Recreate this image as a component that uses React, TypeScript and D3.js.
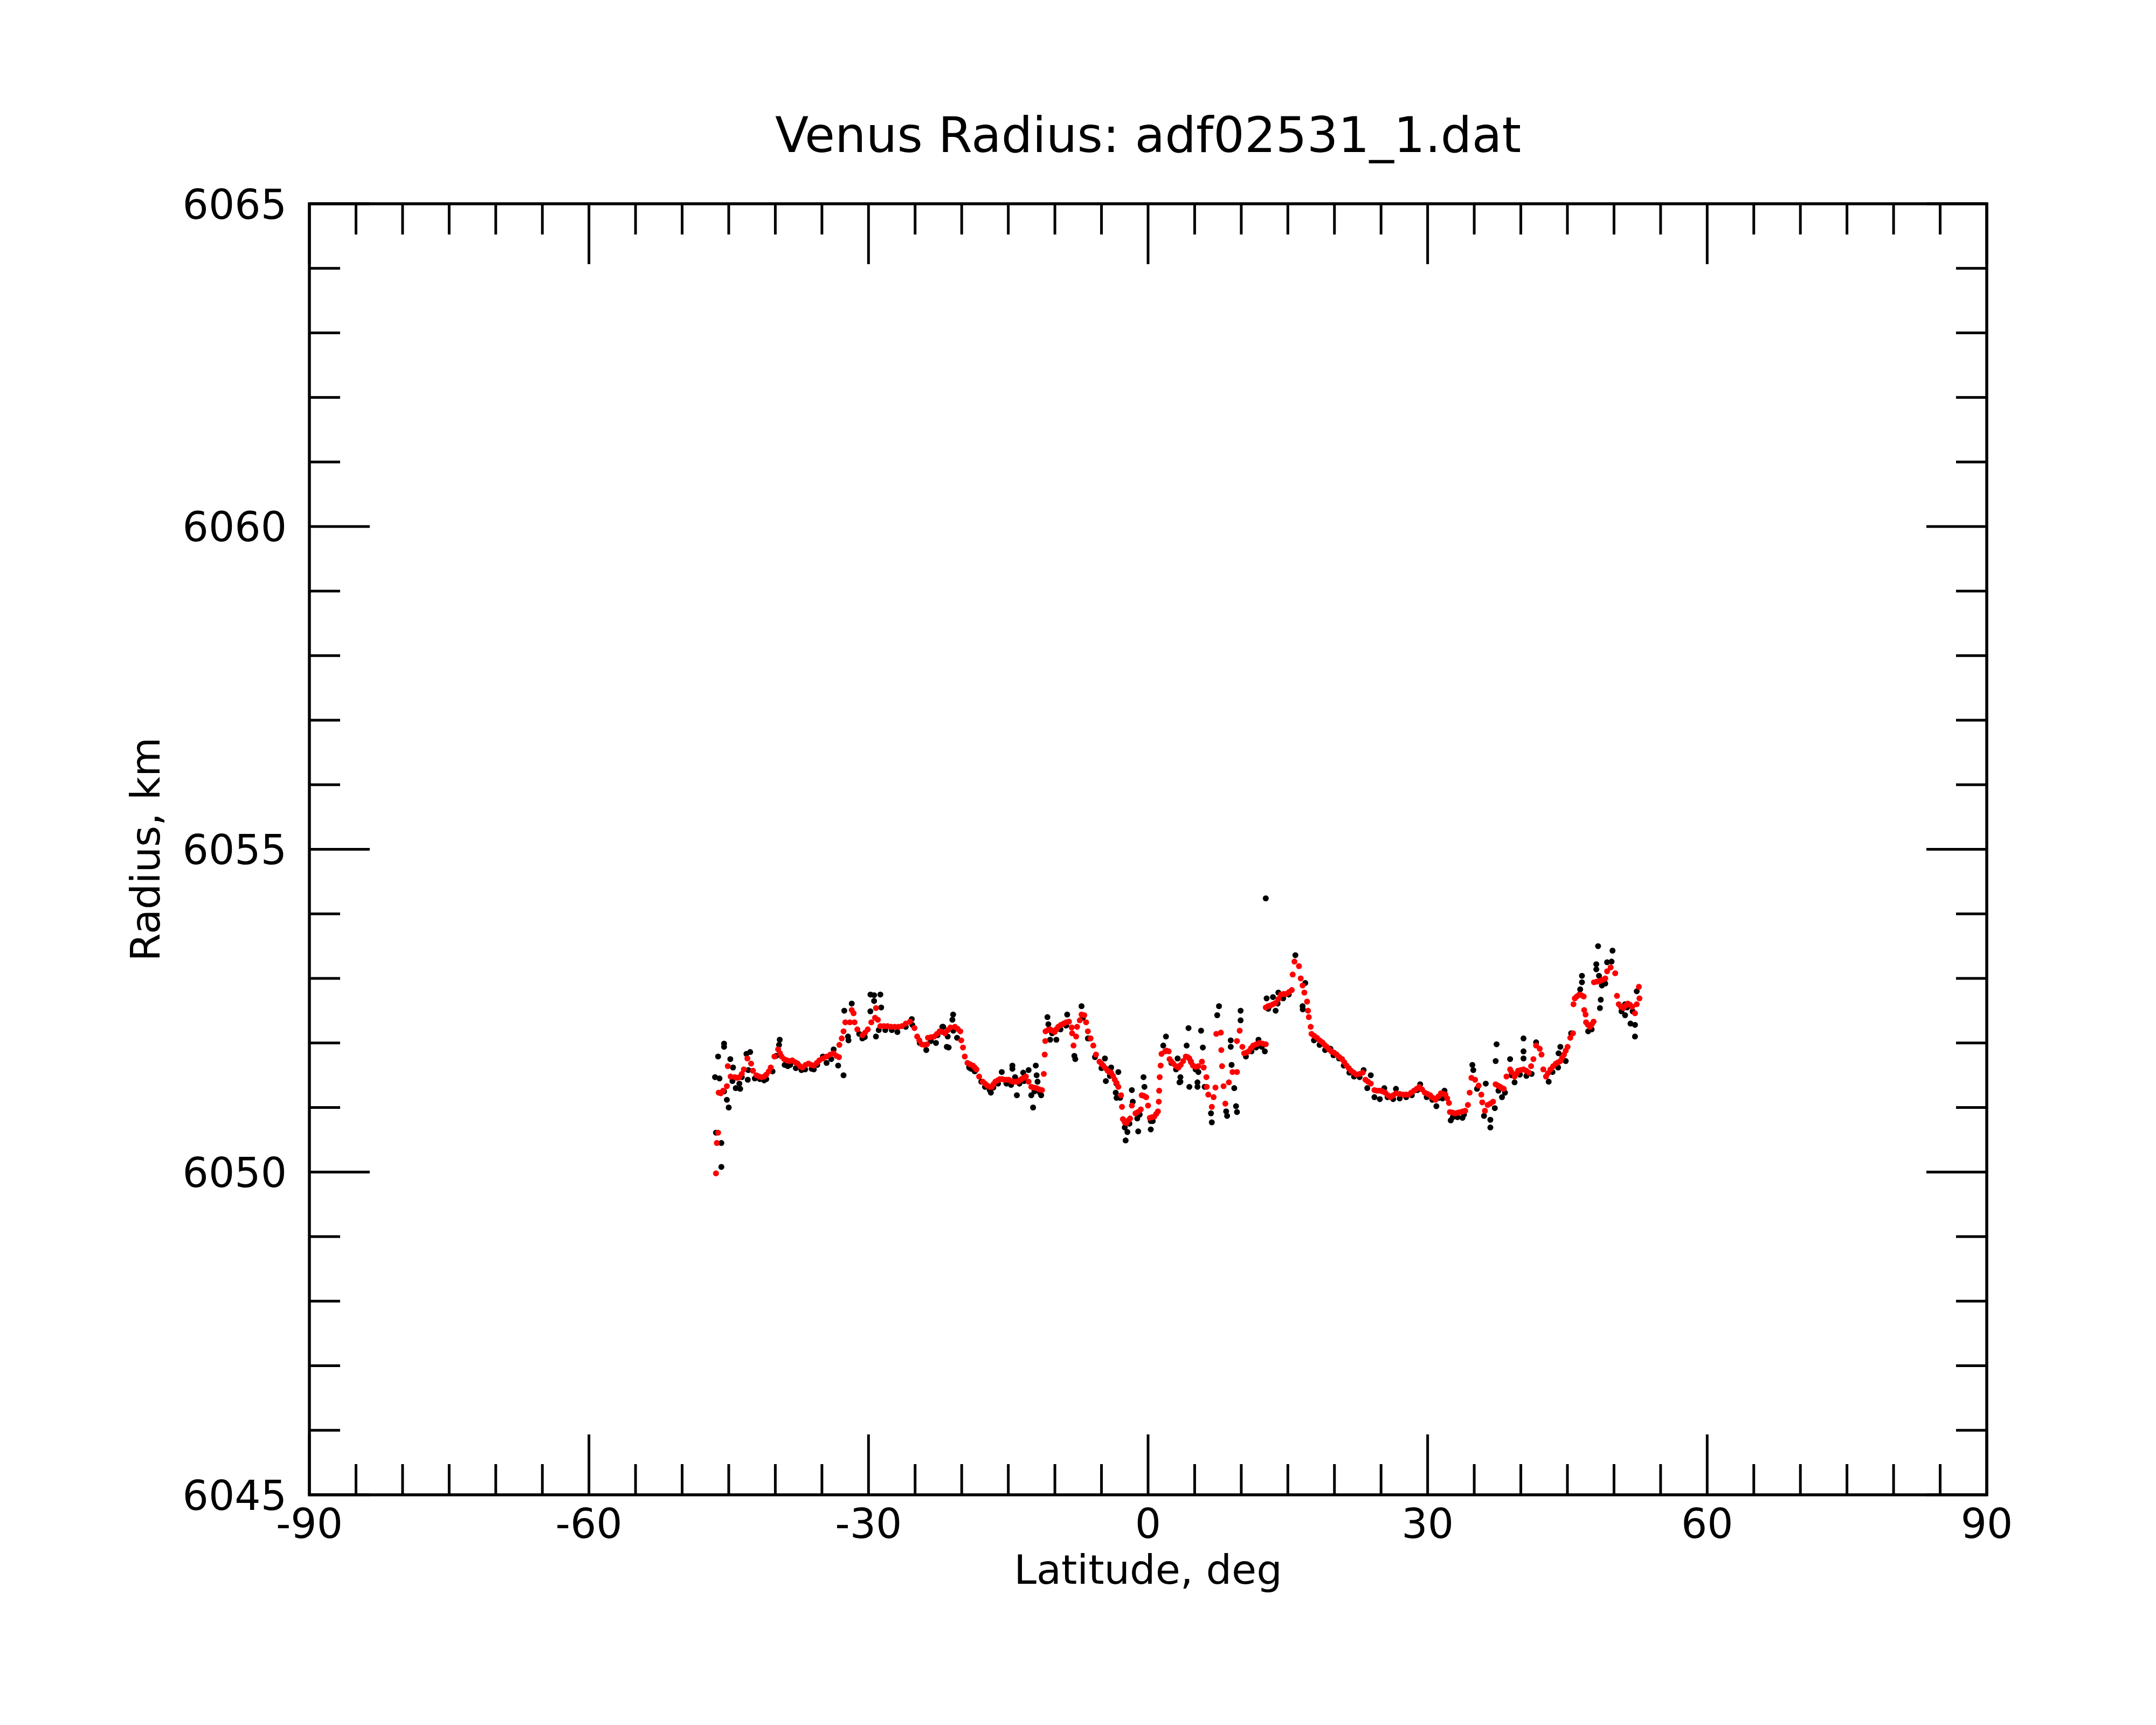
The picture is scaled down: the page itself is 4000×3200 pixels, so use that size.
import * as d3 from "d3";

// axis ticks
const xMajorTicks = [-90, -60, -30, 0, 30, 60, 90];
const yMajorTicks = [6045, 6050, 6055, 6060, 6065];
const xMinorStep = 5;
const yMinorStep = 1;

// smoothed radius (red), [latitude deg, radius km]
const smoothPoints: [number, number][] = [
  [-46.37, 6049.98], [-46.28, 6050.45], [-46.14, 6050.61], [-46.08, 6051.23], [-45.85, 6051.22],
  [-45.6, 6051.26], [-45.2, 6051.33], [-45.1, 6051.64], [-44.8, 6051.48], [-44.35, 6051.47],
  [-43.86, 6051.47], [-43.38, 6051.59], [-43.0, 6051.76], [-42.6, 6051.68], [-42.4, 6051.57],
  [-42.03, 6051.5], [-41.46, 6051.47], [-40.97, 6051.51], [-40.49, 6051.62], [-40.1, 6051.79],
  [-39.7, 6051.9], [-39.33, 6051.79], [-38.76, 6051.73], [-38.18, 6051.73], [-37.6, 6051.68],
  [-37.1, 6051.62], [-36.44, 6051.68], [-35.86, 6051.65], [-35.28, 6051.73], [-34.5, 6051.79],
  [-33.74, 6051.84], [-33.17, 6051.78], [-33.13, 6051.97], [-32.87, 6052.07], [-32.68, 6052.18],
  [-32.49, 6052.32], [-32.0, 6052.32], [-31.8, 6052.51], [-31.6, 6052.46], [-31.5, 6052.32],
  [-31.2, 6052.21], [-30.66, 6052.12], [-30.08, 6052.21], [-29.7, 6052.32], [-29.3, 6052.39],
  [-29.2, 6052.54], [-29.0, 6052.36], [-28.73, 6052.26], [-27.96, 6052.26], [-27.19, 6052.25],
  [-26.42, 6052.26], [-25.55, 6052.33], [-25.07, 6052.23], [-24.78, 6052.1], [-24.3, 6051.98],
  [-23.72, 6051.98], [-23.62, 6052.08], [-22.95, 6052.1], [-22.37, 6052.18], [-21.79, 6052.15],
  [-21.21, 6052.24], [-20.73, 6052.25], [-20.15, 6052.18], [-20.05, 6052.04], [-19.86, 6051.93],
  [-19.67, 6051.79], [-19.38, 6051.69], [-18.8, 6051.65], [-18.41, 6051.59], [-18.13, 6051.48],
  [-17.74, 6051.4], [-17.26, 6051.34], [-16.78, 6051.32], [-16.39, 6051.4], [-15.91, 6051.44],
  [-15.43, 6051.43], [-14.94, 6051.43], [-14.46, 6051.4], [-13.98, 6051.4], [-13.6, 6051.44],
  [-13.11, 6051.48], [-12.82, 6051.4], [-12.53, 6051.32], [-11.96, 6051.3], [-11.38, 6051.27],
  [-11.19, 6051.52], [-11.09, 6051.82], [-11.03, 6052.03], [-11.0, 6052.18], [-10.51, 6052.21],
  [-10.03, 6052.17], [-9.64, 6052.25], [-9.07, 6052.3], [-8.49, 6052.33], [-8.2, 6052.24],
  [-8.15, 6052.15], [-8.0, 6051.96], [-7.72, 6052.1], [-7.62, 6052.25], [-7.33, 6052.35],
  [-7.14, 6052.44], [-6.85, 6052.43], [-6.65, 6052.32], [-6.46, 6052.18], [-6.17, 6052.07],
  [-5.88, 6051.96], [-5.59, 6051.82], [-5.21, 6051.71], [-4.82, 6051.65], [-4.34, 6051.57],
  [-3.96, 6051.54], [-3.57, 6051.43], [-3.19, 6051.32], [-2.9, 6051.19], [-2.8, 6051.01],
  [-2.7, 6050.82], [-2.32, 6050.76], [-1.93, 6050.83], [-1.74, 6051.03], [-1.35, 6050.91],
  [-0.78, 6050.97], [-0.68, 6051.19], [-0.2, 6051.16], [0.0, 6051.03], [0.19, 6050.84],
  [0.67, 6050.86], [1.06, 6050.94], [1.15, 6051.09], [1.19, 6051.26], [1.25, 6051.47],
  [1.35, 6051.65], [1.44, 6051.83], [1.83, 6051.87], [2.21, 6051.87], [2.31, 6051.75],
  [2.7, 6051.68], [3.27, 6051.62], [3.76, 6051.72], [4.05, 6051.79], [4.43, 6051.76],
  [4.82, 6051.65], [5.4, 6051.64], [5.78, 6051.71], [5.97, 6051.62], [6.26, 6051.47],
  [6.3, 6051.32], [6.46, 6051.2], [6.84, 6051.01], [7.03, 6051.16], [7.23, 6051.31],
  [7.32, 6052.14], [7.81, 6052.16], [7.86, 6051.89], [7.94, 6051.64], [8.1, 6051.33],
  [8.29, 6051.06], [8.67, 6051.39], [9.06, 6051.55], [9.54, 6051.55], [9.54, 6052.03],
  [9.83, 6052.19], [10.12, 6051.94], [10.31, 6051.84], [10.79, 6051.87], [11.28, 6051.96],
  [11.95, 6052.0], [12.63, 6051.98], [12.63, 6052.55], [13.11, 6052.58], [13.69, 6052.62],
  [14.26, 6052.75], [14.84, 6052.76], [15.42, 6052.82], [15.52, 6053.06], [15.71, 6053.26],
  [16.19, 6053.19], [16.38, 6053.0], [16.58, 6052.89], [16.77, 6052.78], [17.06, 6052.64],
  [17.16, 6052.5], [17.25, 6052.4], [17.45, 6052.25], [17.54, 6052.14], [18.12, 6052.08],
  [18.7, 6052.01], [19.18, 6051.94], [19.66, 6051.87], [20.24, 6051.82], [20.82, 6051.75],
  [21.3, 6051.65], [21.78, 6051.57], [22.36, 6051.51], [23.04, 6051.54], [23.33, 6051.43],
  [23.9, 6051.37], [24.29, 6051.27], [24.87, 6051.26], [25.45, 6051.23], [26.02, 6051.16],
  [26.6, 6051.22], [27.37, 6051.2], [27.95, 6051.2], [28.53, 6051.26], [29.11, 6051.32],
  [29.69, 6051.23], [30.27, 6051.19], [30.85, 6051.12], [31.42, 6051.22], [31.91, 6051.2],
  [32.29, 6051.07], [32.39, 6050.93], [32.97, 6050.91], [33.55, 6050.93], [34.03, 6050.95],
  [34.32, 6051.04], [34.51, 6051.23], [34.7, 6051.46], [35.09, 6051.43], [35.47, 6051.34],
  [35.76, 6051.2], [35.86, 6051.08], [36.15, 6050.95], [36.44, 6051.04], [37.02, 6051.09],
  [37.3, 6051.36], [37.79, 6051.32], [38.17, 6051.29], [38.46, 6051.48], [38.85, 6051.59],
  [39.33, 6051.48], [39.71, 6051.57], [40.29, 6051.59], [40.87, 6051.54], [41.35, 6051.75],
  [41.64, 6051.96], [42.03, 6051.91], [42.22, 6051.82], [42.41, 6051.59], [42.7, 6051.48],
  [43.18, 6051.59], [43.76, 6051.68], [44.24, 6051.72], [44.63, 6051.82], [45.02, 6051.94],
  [45.31, 6052.08], [45.6, 6052.15], [45.65, 6052.6], [45.79, 6052.69], [46.27, 6052.75],
  [46.75, 6052.72], [46.8, 6052.51], [46.95, 6052.44], [47.0, 6052.32], [47.43, 6052.25],
  [47.81, 6052.33], [47.85, 6052.94], [48.49, 6052.96], [49.06, 6053.0], [49.26, 6053.11],
  [49.64, 6053.17], [50.13, 6053.08], [50.32, 6052.73], [50.51, 6052.6], [51.0, 6052.54],
  [51.48, 6052.61], [51.96, 6052.56], [52.25, 6052.46], [52.44, 6052.6], [52.73, 6052.69],
  [52.67, 6052.87],
  // denser stretches of the smoothed curve
  [-44.1, 6051.46], [-43.6, 6051.52], [-41.75, 6051.48], [-41.2, 6051.48], [-40.7, 6051.56],
  [-39.5, 6051.84], [-39.05, 6051.75], [-38.45, 6051.72], [-37.85, 6051.7], [-37.35, 6051.64],
  [-36.75, 6051.66], [-36.15, 6051.66], [-35.55, 6051.69], [-34.9, 6051.76], [-34.1, 6051.82],
  [-33.45, 6051.8], [-30.37, 6052.16], [-28.35, 6052.26], [-27.58, 6052.25], [-26.8, 6052.25],
  [-26.0, 6052.3], [-24.55, 6052.04], [-24.0, 6051.97], [-23.3, 6052.09], [-22.65, 6052.14],
  [-22.08, 6052.17], [-21.5, 6052.2], [-20.45, 6052.22], [-19.1, 6051.67], [-18.6, 6051.62],
  [-17.5, 6051.37], [-17.0, 6051.32], [-16.6, 6051.36], [-16.15, 6051.42], [-15.67, 6051.44],
  [-15.18, 6051.43], [-14.7, 6051.41], [-14.22, 6051.4], [-13.8, 6051.42], [-13.35, 6051.46],
  [-12.25, 6051.31], [-11.67, 6051.28], [-10.75, 6052.2], [-10.27, 6052.19], [-9.85, 6052.21],
  [-9.35, 6052.28], [-8.78, 6052.32], [-5.0, 6051.68], [-4.58, 6051.61], [-4.15, 6051.55],
  [-3.76, 6051.49], [-3.38, 6051.38], [-2.5, 6050.77], [-2.12, 6050.8], [-1.1, 6050.93],
  [-0.45, 6051.18], [0.43, 6050.85], [0.87, 6050.9], [2.0, 6051.88], [2.5, 6051.71],
  [3.0, 6051.64], [3.5, 6051.66], [4.25, 6051.78], [4.62, 6051.7], [5.1, 6051.63],
  [10.55, 6051.85], [11.05, 6051.92], [11.6, 6051.98], [12.3, 6051.99], [12.87, 6052.57],
  [13.4, 6052.6], [13.98, 6052.68], [14.55, 6052.76], [15.13, 6052.79], [17.83, 6052.11],
  [18.41, 6052.04], [18.94, 6051.97], [19.42, 6051.9], [19.95, 6051.85], [20.53, 6051.78],
  [21.06, 6051.7], [21.54, 6051.61], [22.07, 6051.54], [22.7, 6051.52], [23.6, 6051.4],
  [24.58, 6051.26], [25.16, 6051.25], [25.74, 6051.19], [26.31, 6051.19], [27.0, 6051.21],
  [27.66, 6051.2], [28.24, 6051.23], [28.82, 6051.29], [29.4, 6051.28], [29.98, 6051.21],
  [30.56, 6051.15], [31.14, 6051.17], [31.67, 6051.21], [32.1, 6051.14], [32.68, 6050.92],
  [33.26, 6050.92], [33.79, 6050.94], [36.73, 6051.06], [37.55, 6051.34], [37.98, 6051.3],
  [39.0, 6051.55], [39.52, 6051.52], [40.0, 6051.58], [40.58, 6051.57], [41.1, 6051.64],
  [42.9, 6051.53], [43.47, 6051.64], [44.0, 6051.7], [44.43, 6051.77], [44.82, 6051.88],
  [46.0, 6052.72], [46.5, 6052.74], [47.2, 6052.28], [47.62, 6052.29], [48.17, 6052.95],
  [48.78, 6052.98], [50.75, 6052.56], [51.24, 6052.58], [51.72, 6052.59],
];

// raw radius (black), [latitude deg, radius km]
const rawPoints: [number, number][] = [
  [-45.79, 6050.08], [-46.37, 6050.61], [-45.79, 6050.45], [-45.0, 6051.0], [-45.2, 6051.12],
  [-45.5, 6051.25], [-46.47, 6051.47], [-45.99, 6051.45], [-46.14, 6051.79], [-45.5, 6051.99],
  [-45.5, 6051.94], [-44.83, 6051.75], [-44.54, 6051.62], [-44.25, 6051.3], [-43.77, 6051.29],
  [-43.86, 6051.37], [-42.96, 6051.43], [-43.1, 6051.83], [-42.7, 6051.86], [-42.9, 6051.58],
  [-41.65, 6051.44], [-40.97, 6051.44], [-39.53, 6052.05], [-39.6, 6051.97], [-38.66, 6051.64],
  [-37.2, 6051.58], [-35.87, 6051.59], [-34.5, 6051.69], [-34.9, 6051.79], [-33.74, 6051.9],
  [-33.26, 6051.65], [-32.68, 6051.5], [-32.6, 6052.5], [-31.8, 6052.61], [-32.2, 6052.1],
  [-32.15, 6052.04], [-29.79, 6052.75], [-29.4, 6052.74], [-28.73, 6052.75], [-29.4, 6052.65],
  [-28.64, 6052.55], [-29.8, 6052.49], [-29.2, 6052.1], [-28.9, 6052.2], [-30.66, 6052.07],
  [-26.9, 6052.17], [-25.36, 6052.37], [-23.8, 6051.89], [-22.76, 6052.0], [-22.08, 6052.25],
  [-21.6, 6051.94], [-21.98, 6052.25], [-20.92, 6052.44], [-21.0, 6052.36], [-21.4, 6051.93],
  [-20.5, 6052.08], [-19.2, 6051.62], [-16.87, 6051.23], [-15.7, 6051.55], [-14.56, 6051.65],
  [-14.56, 6051.6], [-14.27, 6051.47], [-14.08, 6051.19], [-13.4, 6051.54], [-12.82, 6051.58],
  [-12.53, 6051.19], [-12.05, 6051.65], [-11.96, 6051.5], [-11.86, 6051.4], [-12.34, 6051.0],
  [-11.47, 6051.19], [-10.8, 6052.4], [-10.7, 6052.29], [-10.51, 6052.05], [-9.84, 6052.05],
  [-8.68, 6052.44], [-7.91, 6051.8], [-7.81, 6051.75], [-7.14, 6052.57], [-6.46, 6052.07],
  [-4.63, 6051.76], [-4.53, 6051.41], [-3.96, 6051.62], [-3.19, 6051.55], [-3.47, 6051.23],
  [-3.38, 6051.15], [-2.41, 6050.49], [-2.22, 6050.62], [-1.74, 6051.27], [-1.64, 6051.09],
  [-1.06, 6050.63], [-1.16, 6050.83], [-0.49, 6051.47], [-0.39, 6051.32], [0.29, 6050.66],
  [0.29, 6050.79], [1.92, 6052.1], [1.63, 6051.96], [3.17, 6051.76], [3.47, 6051.4],
  [3.47, 6051.47], [12.63, 6054.24], [4.34, 6052.23], [5.69, 6052.19], [4.14, 6051.96],
  [5.88, 6051.93], [3.37, 6051.39], [4.43, 6051.32], [5.3, 6051.39], [5.3, 6051.32],
  [5.4, 6051.55], [6.07, 6051.32], [6.75, 6050.91], [6.84, 6050.77], [7.61, 6052.57],
  [7.42, 6052.43], [8.38, 6050.94], [8.48, 6050.87], [9.54, 6050.93], [9.44, 6051.02],
  [9.25, 6051.3], [8.87, 6052.04], [8.87, 6051.94], [9.93, 6052.5], [9.93, 6052.35],
  [8.96, 6051.66], [11.85, 6052.05], [12.53, 6051.87], [12.72, 6052.69], [13.4, 6052.71],
  [13.69, 6052.5], [13.98, 6052.78], [15.81, 6053.36], [16.87, 6052.93], [16.58, 6052.57],
  [16.6, 6052.52], [19.57, 6051.91], [23.13, 6051.58], [23.9, 6051.5], [23.52, 6051.3],
  [24.29, 6051.16], [24.87, 6051.13], [25.35, 6051.3], [26.6, 6051.29], [29.2, 6051.36],
  [30.94, 6051.02], [31.81, 6051.26], [32.48, 6050.8], [33.74, 6050.84], [34.8, 6051.66],
  [34.9, 6051.58], [36.24, 6051.37], [36.05, 6050.87], [36.73, 6050.81], [36.73, 6050.69],
  [37.21, 6050.99], [37.4, 6051.98], [37.3, 6051.72], [37.98, 6051.16], [38.85, 6051.75],
  [39.33, 6051.39], [40.29, 6052.07], [40.29, 6051.87], [40.29, 6051.76], [41.16, 6051.52],
  [41.64, 6052.01], [42.99, 6051.4], [44.24, 6051.94], [44.05, 6051.84], [44.82, 6051.72],
  [45.4, 6052.15], [46.37, 6052.83], [46.56, 6053.04], [46.56, 6052.94], [47.23, 6052.18],
  [48.29, 6053.5], [49.84, 6053.43], [48.1, 6053.22], [48.1, 6053.14], [48.39, 6053.04],
  [49.26, 6053.25], [49.74, 6053.26], [48.58, 6052.67], [48.49, 6052.54], [49.06, 6052.92],
  [51.19, 6052.43], [51.19, 6052.6], [51.77, 6052.3], [52.25, 6052.28], [52.25, 6052.1],
  [52.44, 6052.8],
  // raw points lying just under the smoothed curve
  [-44.6, 6051.41], [-43.6, 6051.47], [-42.2, 6051.45], [-41.2, 6051.42], [-40.3, 6051.56],
  [-39.9, 6051.8], [-39.0, 6051.66], [-38.4, 6051.66], [-37.8, 6051.61], [-36.8, 6051.59],
  [-36.1, 6051.6], [-35.5, 6051.66], [-34.0, 6051.75], [-31.0, 6052.14], [-30.4, 6052.09],
  [-28.2, 6052.2], [-27.5, 6052.2], [-26.0, 6052.25], [-25.3, 6052.28], [-24.5, 6052.0],
  [-23.3, 6052.03], [-22.6, 6052.12], [-21.5, 6052.1], [-20.9, 6052.19], [-19.0, 6051.6],
  [-18.6, 6051.56], [-17.9, 6051.4], [-17.5, 6051.32], [-17.0, 6051.27], [-16.6, 6051.31],
  [-16.1, 6051.37], [-15.2, 6051.37], [-14.7, 6051.35], [-13.8, 6051.37], [-13.3, 6051.41],
  [-12.2, 6051.25], [-11.6, 6051.23], [-10.3, 6052.15], [-9.4, 6052.21], [-8.8, 6052.27],
  [-7.0, 6052.39], [-6.3, 6052.07], [-5.7, 6051.78], [-5.0, 6051.61], [-4.1, 6051.49],
  [-3.4, 6051.37], [-3.0, 6051.15], [-2.5, 6050.69], [-2.0, 6050.75], [-0.9, 6050.89],
  [0.5, 6050.79], [2.5, 6051.69], [3.0, 6051.59], [4.6, 6051.71], [5.1, 6051.59],
  [10.5, 6051.79], [11.1, 6051.87], [11.6, 6051.93], [12.2, 6051.94], [12.9, 6052.53],
  [13.9, 6052.61], [14.5, 6052.69], [15.1, 6052.75], [17.8, 6052.04], [18.4, 6051.97],
  [19.0, 6051.89], [19.9, 6051.81], [20.5, 6051.76], [21.0, 6051.65], [21.6, 6051.54],
  [22.1, 6051.48], [22.7, 6051.47], [25.7, 6051.16], [26.3, 6051.13], [27.0, 6051.14],
  [27.7, 6051.16], [28.3, 6051.19], [28.9, 6051.27], [29.9, 6051.16], [30.5, 6051.12],
  [31.2, 6051.15], [31.6, 6051.14], [32.7, 6050.85], [33.2, 6050.85], [33.9, 6050.89],
  [35.3, 6051.29], [37.6, 6051.26], [38.3, 6051.23], [39.0, 6051.5], [39.9, 6051.51],
  [40.6, 6051.49], [43.4, 6051.55], [44.0, 6051.62], [47.6, 6052.21], [48.7, 6052.89],
  [50.8, 6052.49], [51.4, 6052.55], [52.0, 6052.49],
];

const width = 4000;
const height = 3200;
const left = 574;
const right = 3686;
const top = 378;
const bottom = 2773;
const majorLen = 112;
const minorLen = 57;
const font = "DejaVu Sans";

export default function App() {
  const x = d3.scaleLinear().domain([-90, 90]).range([left, right]);
  const y = d3.scaleLinear().domain([6045, 6065]).range([bottom, top]);

  const xTicks = d3.range(-90, 90 + 0.001, xMinorStep);
  const yTicks = d3.range(6045, 6065 + 0.001, yMinorStep);
  const isXMajor = (v: number) => xMajorTicks.includes(v);
  const isYMajor = (v: number) => yMajorTicks.includes(v);

  return (
    <svg
      width={width}
      height={height}
      viewBox={`0 0 ${width} ${height}`}
      style={{ position: "absolute", left: 0, top: 0, background: "white" }}
      fontFamily={font}
    >
      <rect width={width} height={height} fill="white" />

      <text x={(left + right) / 2} y={282} textAnchor="middle" fontSize={91}>
        Venus Radius: adf02531_1.dat
      </text>

      {/* data: raw first, smoothed on top */}
      <g fill="black">
        {rawPoints.map((d, i) => (
          <circle key={i} cx={x(d[0])} cy={y(d[1])} r={5.5} />
        ))}
      </g>
      <g fill="#ff0000">
        {smoothPoints.map((d, i) => (
          <circle key={i} cx={x(d[0])} cy={y(d[1])} r={5.5} />
        ))}
      </g>

      {/* ticks */}
      <g stroke="black" strokeWidth={5}>
        {xTicks.map(v => {
          const len = isXMajor(v) ? majorLen : minorLen;
          return (
            <g key={v}>
              <line x1={x(v)} x2={x(v)} y1={bottom} y2={bottom - len} />
              <line x1={x(v)} x2={x(v)} y1={top} y2={top + len} />
            </g>
          );
        })}
        {yTicks.map(v => {
          const len = isYMajor(v) ? majorLen : minorLen;
          return (
            <g key={v}>
              <line x1={left} x2={left + len} y1={y(v)} y2={y(v)} />
              <line x1={right} x2={right - len} y1={y(v)} y2={y(v)} />
            </g>
          );
        })}
      </g>
      <rect
        x={left}
        y={top}
        width={right - left}
        height={bottom - top}
        fill="none"
        stroke="black"
        strokeWidth={5.5}
      />

      {/* tick labels */}
      {xMajorTicks.map(v => (
        <text key={v} x={x(v)} y={bottom + 80} textAnchor="middle" fontSize={76}>
          {v}
        </text>
      ))}
      {yMajorTicks.map(v => (
        <text key={v} x={left - 42} y={y(v)} dy="0.365em" textAnchor="end" fontSize={76}>
          {v}
        </text>
      ))}

      <text x={(left + right) / 2} y={2938} textAnchor="middle" fontSize={75}>
        Latitude, deg
      </text>
      <text
        transform={`translate(296, ${(top + bottom) / 2}) rotate(-90)`}
        textAnchor="middle"
        fontSize={75}
      >
        Radius, km
      </text>
    </svg>
  );
}
